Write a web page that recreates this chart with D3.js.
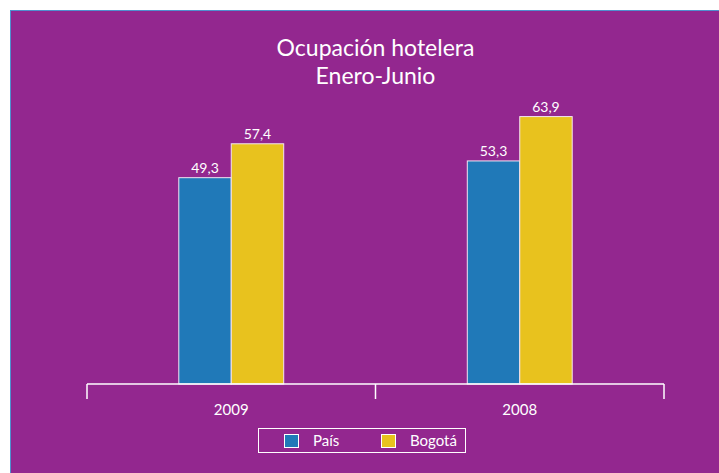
<!DOCTYPE html>
<html>
<meta charset="utf-8">
<head>
  <script src="https://cdnjs.cloudflare.com/ajax/libs/d3/7.8.5/d3.min.js"></script>
  <style>
    body { margin: 0; background: #ffffff; }
    svg text { font-family: Lato, "Open Sans", sans-serif; font-weight: 400; fill: #ffffff; }
  </style>
</head>
<body>
<svg id="chart" width="719" height="473"></svg>
<script type="text/javascript">
  // chart data
  var years = ["2009", "2008"];
  var seriesNames = ["País", "Bogotá"];
  var paisValues = [49.3, 53.3];
  var bogotaValues = [57.4, 63.9];
  var seriesColors = ["#2079b8", "#e8c21e"];
  var titleLines = ["Ocupación hotelera", "Enero-Junio"];

  var svg = d3.select("#chart");

  // purple panel
  svg.append("rect")
    .attr("x", 10.5).attr("y", 10.5)
    .attr("width", 720).attr("height", 470)
    .attr("fill", "#93278f")
    .attr("stroke", "#4f8fcf").attr("stroke-width", 1);

  var x0 = d3.scaleBand().domain(years).range([87, 664]).paddingInner(0).paddingOuter(0);
  var x1 = d3.scaleBand().domain(seriesNames).range([0, x0.bandwidth()]).paddingInner(0).paddingOuter(1.75);
  var y = d3.scaleLinear().domain([0, 70]).range([384, 384 - 70 * 4.185]);

  var fmt = function(v) { return d3.format(".1f")(v).replace(".", ","); };

  var rows = years.map(function(yr, i) {
    return { year: yr, vals: [paisValues[i], bogotaValues[i]] };
  });

  var groups = svg.selectAll("g.year").data(rows).enter().append("g")
    .attr("class", "year")
    .attr("transform", function(d) { return "translate(" + x0(d.year) + ",0)"; });

  groups.selectAll("rect").data(function(d) {
      return d.vals.map(function(v, j) { return { name: seriesNames[j], value: v, color: seriesColors[j] }; });
    }).enter().append("rect")
    .attr("x", function(d) { return x1(d.name); })
    .attr("y", function(d) { return y(d.value); })
    .attr("width", x1.bandwidth())
    .attr("height", function(d) { return y(0) - y(d.value); })
    .attr("fill", function(d) { return d.color; })
    .attr("stroke", "#f3e4f2").attr("stroke-width", 1);

  groups.selectAll("text.val").data(function(d) {
      return d.vals.map(function(v, j) { return { name: seriesNames[j], value: v }; });
    }).enter().append("text")
    .attr("class", "val")
    .attr("x", function(d) { return x1(d.name) + x1.bandwidth() / 2; })
    .attr("y", function(d) { return y(d.value) - 5; })
    .attr("text-anchor", "middle")
    .style("font-size", "14px")
    .text(function(d) { return fmt(d.value); });

  // x axis: line with ticks at band edges
  var axis = svg.append("g").attr("stroke", "#ffffff").attr("stroke-width", 1.5);
  axis.append("line").attr("x1", 87).attr("x2", 664).attr("y1", 384).attr("y2", 384);
  var edges = [x0.range()[0]].concat(years.map(function(yr) { return x0(yr) + x0.bandwidth(); }));
  axis.selectAll("line.tick").data(edges).enter().append("line")
    .attr("class", "tick")
    .attr("x1", function(d) { return d; }).attr("x2", function(d) { return d; })
    .attr("y1", 384).attr("y2", 399);

  svg.selectAll("text.cat").data(years).enter().append("text")
    .attr("class", "cat")
    .attr("x", function(d) { return x0(d) + x0.bandwidth() / 2; })
    .attr("y", 415)
    .attr("text-anchor", "middle")
    .style("font-size", "15px")
    .text(function(d) { return d; });

  // title
  svg.selectAll("text.title").data(titleLines).enter().append("text")
    .attr("class", "title")
    .attr("x", 375.5)
    .attr("y", function(d, i) { return 56 + i * 28; })
    .attr("text-anchor", "middle")
    .style("font-size", "23px")
    .text(function(d) { return d; });

  // legend
  var legend = svg.append("g");
  legend.append("rect").attr("x", 258.5).attr("y", 428.5).attr("width", 207).attr("height", 24)
    .attr("fill", "none").attr("stroke", "#ffffff").attr("stroke-width", 1);
  var legX = [284, 381];
  seriesNames.forEach(function(n, i) {
    legend.append("rect").attr("x", legX[i] + 0.5).attr("y", 434.5).attr("width", 14).attr("height", 13)
      .attr("fill", seriesColors[i]).attr("stroke", "#ffffff").attr("stroke-width", 1);
    legend.append("text").attr("x", legX[i] + 29).attr("y", 446)
      .style("font-size", "15px").text(n);
  });
</script>
</body>
</html>
